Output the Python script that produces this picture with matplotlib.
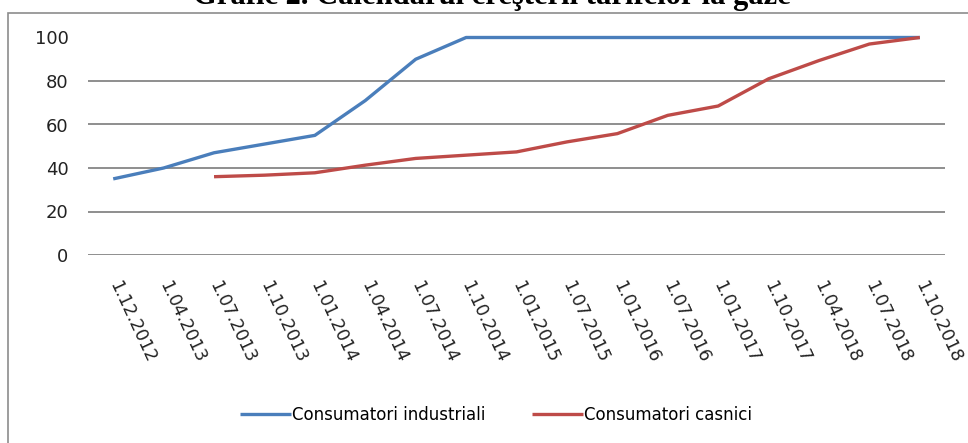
import numpy as np
import matplotlib
matplotlib.use("Agg")
import matplotlib.pyplot as plt
from matplotlib.patches import Rectangle

categories = ["1.12.2012", "1.04.2013", "1.07.2013", "1.10.2013", "1.01.2014",
              "1.04.2014", "1.07.2014", "1.10.2014", "1.01.2015", "1.07.2015",
              "1.01.2016", "1.07.2016", "1.01.2017", "1.10.2017", "1.04.2018",
              "1.07.2018", "1.10.2018"]
industrial = [35, 40, 47, 51, 55, 71, 90, 100, 100, 100, 100, 100, 100, 100, 100, 100, 100]
casnici = [np.nan, np.nan, 36, 36.7, 37.8, 41.3, 44.4, 45.9, 47.4, 52, 55.8, 64.2,
           68.5, 81, 89.4, 97, 100]
yticks = [0, 20, 40, 60, 80, 100]
title = "Grafic 2. Calendarul creşterii tarifelor la gaze"
names = ["Consumatori industriali", "Consumatori casnici"]

W, H = 968, 443
fig = plt.figure(figsize=(W / 100, H / 100), dpi=100)
fig.patch.set_facecolor("white")

# outer chart border (left and top visible)
fig.patches.append(Rectangle((8 / W, -0.1), 1.2, (1 - 13 / H) + 0.1,
                             transform=fig.transFigure, fill=False,
                             edgecolor="#8c8c8c", linewidth=1.2))

left, right = 88, 945
top, bottom = 37.5, 255
ax = fig.add_axes([left / W, 1 - bottom / H, (right - left) / W, (bottom - top) / H])
x = np.arange(len(categories))
ax.plot(x, industrial, color="#4A7EBB", lw=2.4, label=names[0],
        solid_capstyle="butt", clip_on=False, zorder=3)
ax.plot(x, casnici, color="#BE4B48", lw=2.4, label=names[1],
        solid_capstyle="butt", clip_on=False, zorder=4)

ax.set_xlim(-0.5, len(categories) - 0.5)
ax.set_ylim(0, 100)
ax.set_yticks(yticks)
ax.set_yticklabels([str(v) for v in yticks], fontsize=13, color="#222222")
ax.yaxis.grid(True, color="#868686", lw=1.3)
ax.set_axisbelow(True)
for s in ax.spines.values():
    s.set_visible(False)
ax.tick_params(axis="y", length=0, pad=14)
ax.set_xticks(x)
ax.set_xticklabels(categories, rotation=-65, ha="left", va="center",
                   rotation_mode="anchor", fontsize=12.5, color="#222222")
ax.tick_params(axis="x", length=0, pad=19)

fig.text(492 / W, 1 - 4 / H, title, ha="center", va="baseline",
         fontsize=22, fontweight="bold", family="Liberation Serif")

h, l = ax.get_legend_handles_labels()
fig.legend(h, l, loc="center", bbox_to_anchor=(496 / W, 1 - 415 / H), ncol=2,
           frameon=False, fontsize=12, handlelength=3.05, handletextpad=0.05,
           columnspacing=2.8)

fig.savefig("out.png", dpi=100)
